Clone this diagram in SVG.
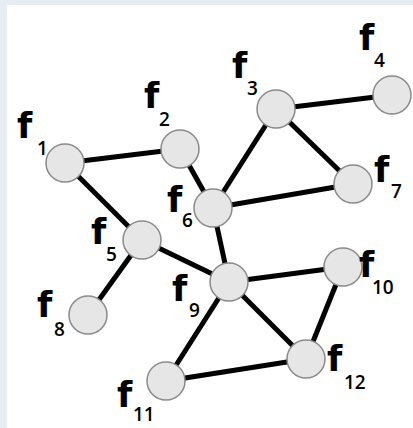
<svg xmlns="http://www.w3.org/2000/svg" width="413" height="428" viewBox="0 0 413 428">
<style>
.e{stroke:#000;stroke-width:5;stroke-linecap:butt}
.n{fill:#e6e6e6;stroke:#8a8a8a;stroke-width:1.5}
.f{font-family:"DejaVu Sans",sans-serif;font-weight:bold;font-size:35px;fill:#000}
.s{font-family:"Open Sans",sans-serif;font-weight:600;font-size:19px;fill:#000}
</style>
<rect x="0" y="0" width="413" height="428" fill="#e6edf5"/>
<rect x="7" y="5" width="406" height="423" fill="#fff"/>
<g id="connectors">
<line class="e" x1="65" y1="163" x2="180" y2="149"/>
<line class="e" x1="65" y1="163" x2="142" y2="240"/>
<line class="e" x1="180" y1="149" x2="213" y2="208"/>
<line class="e" x1="276" y1="109" x2="392" y2="95"/>
<line class="e" x1="276" y1="109" x2="213" y2="208"/>
<line class="e" x1="276" y1="109" x2="353" y2="184"/>
<line class="e" x1="213" y1="208" x2="353" y2="184"/>
<line class="e" x1="213" y1="208" x2="229" y2="282"/>
<line class="e" x1="142" y1="240" x2="229" y2="282"/>
<line class="e" x1="142" y1="240" x2="88" y2="315"/>
<line class="e" x1="229" y1="282" x2="343" y2="267"/>
<line class="e" x1="229" y1="282" x2="306" y2="359"/>
<line class="e" x1="229" y1="282" x2="166" y2="381"/>
<line class="e" x1="343" y1="267" x2="306" y2="359"/>
<line class="e" x1="166" y1="381" x2="306" y2="359"/>
</g>
<g id="f1"><circle class="n" cx="65" cy="163" r="19"/><text class="f" x="17" y="138">f</text><text class="s" x="37" y="155">1</text></g>
<g id="f2"><circle class="n" cx="180" cy="149" r="19"/><text class="f" x="144" y="108">f</text><text class="s" x="159" y="126">2</text></g>
<g id="f3"><circle class="n" cx="276" cy="109" r="19"/><text class="f" x="232" y="78">f</text><text class="s" x="247" y="95">3</text></g>
<g id="f4"><circle class="n" cx="392" cy="95" r="19"/><text class="f" x="359" y="50">f</text><text class="s" x="374" y="67">4</text></g>
<g id="f5"><circle class="n" cx="142" cy="240" r="19"/><text class="f" x="91" y="244">f</text><text class="s" x="106" y="261">5</text></g>
<g id="f6"><circle class="n" cx="213" cy="208" r="19"/><text class="f" x="167" y="212">f</text><text class="s" x="182" y="227">6</text></g>
<g id="f7"><circle class="n" cx="353" cy="184" r="19"/><text class="f" x="374" y="182">f</text><text class="s" x="391" y="198">7</text></g>
<g id="f8"><circle class="n" cx="88" cy="315" r="19"/><text class="f" x="37" y="317">f</text><text class="s" x="54" y="336">8</text></g>
<g id="f9"><circle class="n" cx="229" cy="282" r="19"/><text class="f" x="172" y="301">f</text><text class="s" x="189" y="317">9</text></g>
<g id="f10"><circle class="n" cx="343" cy="267" r="19"/><text class="f" x="359" y="277">f</text><text class="s" x="372" y="294">10</text></g>
<g id="f11"><circle class="n" cx="166" cy="381" r="19"/><text class="f" x="117" y="407">f</text><text class="s" x="133" y="421">11</text></g>
<g id="f12"><circle class="n" cx="306" cy="359" r="19"/><text class="f" x="327" y="371">f</text><text class="s" x="344" y="389">12</text></g>
</svg>
